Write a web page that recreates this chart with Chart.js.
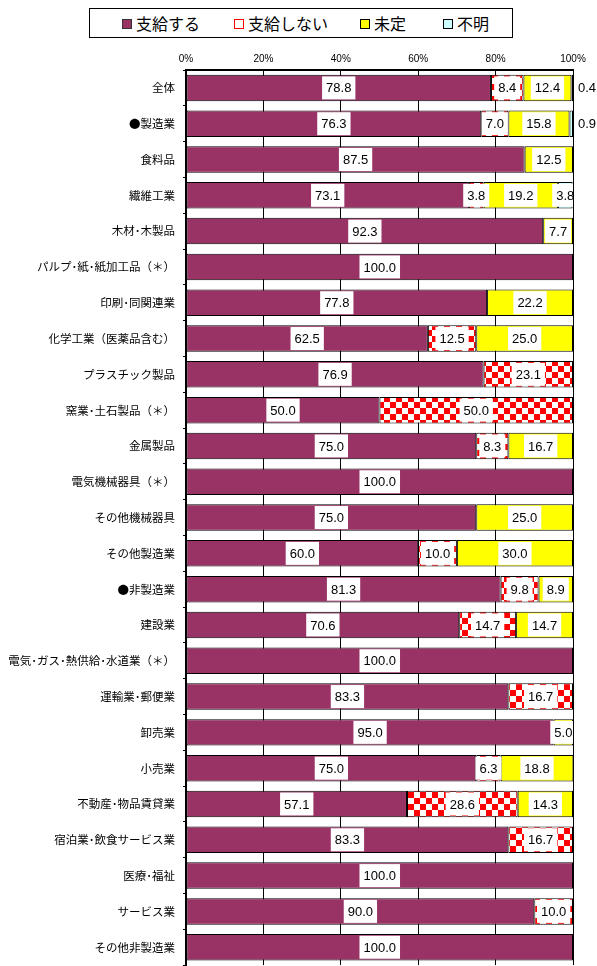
<!DOCTYPE html>
<html>
<head>
<meta charset="utf-8">
<script src="https://cdn.jsdelivr.net/npm/chart.js@4.4.0/dist/chart.umd.min.js"></script>
<style>
  body { margin: 0; background: #fff; overflow: hidden; }
  #wrap { position: relative; width: 597px; height: 980px; }
  #legend {
    position: absolute; left: 89px; top: 8px; width: 422px; height: 28px;
    border: 1px solid #000; background: #fff;
    font-family: "Noto Sans CJK JP", sans-serif; font-size: 16px; color: #000;
  }
  #legend .item { position: absolute; top: 0; height: 28px; line-height: 28px; white-space: nowrap; }
  #legend .box { display: inline-block; width: 8px; height: 8px; margin-right: 4px; vertical-align: 1px; }
</style>
</head>
<body>
<div id="wrap">
  <canvas id="chartCanvas"></canvas>
  <div id="legend"></div>
</div>
<script>
var categories = [
  "全体", "●製造業", "食料品", "繊維工業", "木材･木製品",
  "パルプ･紙･紙加工品（＊）", "印刷･同関連業", "化学工業（医薬品含む）", "プラスチック製品", "窯業･土石製品（＊）",
  "金属製品", "電気機械器具（＊）", "その他機械器具", "その他製造業", "●非製造業",
  "建設業", "電気･ガス･熱供給･水道業（＊）", "運輸業･郵便業", "卸売業", "小売業",
  "不動産･物品賃貸業", "宿泊業･飲食サービス業", "医療･福祉", "サービス業", "その他非製造業"
];
var seriesNames = ["支給する", "支給しない", "未定", "不明"];

var shikyuSuru   = [78.8, 76.3, 87.5, 73.1, 92.3, 100.0, 77.8, 62.5, 76.9, 50.0, 75.0, 100.0, 75.0, 60.0, 81.3, 70.6, 100.0, 83.3, 95.0, 75.0, 57.1, 83.3, 100.0, 90.0, 100.0];
var shikyuShinai = [8.4, 7.0, 0, 3.8, 0, 0, 0, 12.5, 23.1, 50.0, 8.3, 0, 0, 10.0, 9.8, 14.7, 0, 16.7, 0, 6.3, 28.6, 16.7, 0, 10.0, 0];
var mitei        = [12.4, 15.8, 12.5, 19.2, 7.7, 0, 22.2, 25.0, 0, 0, 16.7, 0, 25.0, 30.0, 8.9, 14.7, 0, 0, 5.0, 18.8, 14.3, 0, 0, 0, 0];
var fumei        = [0.4, 0.9, 0, 3.8, 0, 0, 0, 0, 0, 0, 0, 0, 0, 0, 0, 0, 0, 0, 0, 0, 0, 0, 0, 0, 0];

var tickLabels = ["0%", "20%", "40%", "60%", "80%", "100%"];

var ctx = document.getElementById("chartCanvas").getContext("2d");

// red / white checks for the "支給しない" segments
function checkerPattern() {
  var c = document.createElement("canvas");
  c.width = 12;
  c.height = 12;
  var g = c.getContext("2d");
  g.fillStyle = "#ffffff";
  g.fillRect(0, 0, 12, 12);
  g.fillStyle = "#ff0000";
  g.fillRect(0, 0, 6, 6);
  g.fillRect(6, 6, 6, 6);
  return ctx.createPattern(c, "repeat");
}

var fills = ["#993366", checkerPattern(), "#ffff00", "#ccffff"];
var legendBoxes = [
  { bg: "#993366", border: "#333" },
  { bg: "#ffffff", border: "#ff0000" },
  { bg: "#ffff00", border: "#000" },
  { bg: "#ccffff", border: "#000" }
];
var values = [shikyuSuru, shikyuShinai, mitei, fumei];

// legend (html)
var legendEl = document.getElementById("legend");
var legendLeft = [32, 144, 270, 353];
for (var i = 0; i < seriesNames.length; i++) {
  var item = document.createElement("div");
  item.className = "item";
  item.style.left = legendLeft[i] + "px";
  var box = document.createElement("span");
  box.className = "box";
  box.style.background = legendBoxes[i].bg;
  box.style.border = "1px solid " + legendBoxes[i].border;
  item.appendChild(box);
  item.appendChild(document.createTextNode(seriesNames[i]));
  legendEl.appendChild(item);
}

var dataset = [];
for (var i = 0; i < values.length; i++) {
  dataset.push({
    label: seriesNames[i],
    data: values[i].map(function (v) { return v > 0 ? v : null; }),
    backgroundColor: fills[i],
    borderColor: "#000",
    borderWidth: 1,
    borderSkipped: false,
    barPercentage: 0.74,
    categoryPercentage: 1.0
  });
}

// white value boxes in each segment, small ones go to the right of the bar
var valueLabels = {
  id: "valueLabels",
  afterDatasetsDraw: function (chart) {
    var c = chart.ctx;
    var area = chart.chartArea;
    c.save();
    c.font = "13px 'Liberation Sans', Arial, sans-serif";
    c.textAlign = "center";
    c.textBaseline = "middle";
    for (var i = 0; i < chart.data.datasets.length; i++) {
      var meta = chart.getDatasetMeta(i);
      for (var j = 0; j < meta.data.length; j++) {
        var v = values[i][j];
        if (!v) continue;
        var el = meta.data[j];
        var txt = v.toFixed(1);
        if (v < 2) {
          c.fillStyle = "#000";
          c.fillText(txt, area.right + 14, el.y + 1);
          continue;
        }
        var cx = (el.x + el.base) / 2;
        var w = c.measureText(txt).width + 8;
        c.save();
        c.beginPath();
        c.rect(area.left, area.top, area.right - area.left, area.bottom - area.top);
        c.clip();
        c.fillStyle = "#fff";
        c.fillRect(cx - w / 2, el.y - 11.5, w, 23);
        c.fillStyle = "#000";
        c.fillText(txt, cx, el.y + 1);
        c.restore();
      }
    }
    c.restore();
  }
};

var chart = new Chart(ctx, {
  type: "bar",
  data: {
    labels: categories,
    datasets: dataset
  },
  options: {
    indexAxis: "y",
    responsive: true,
    maintainAspectRatio: false,
    animation: false,
    layout: {
      padding: { top: 0, right: 24, bottom: 8, left: 0 }
    },
    scales: {
      x: {
        type: "linear",
        position: "top",
        stacked: true,
        min: 0,
        max: 100,
        ticks: {
          stepSize: 20,
          padding: 5,
          color: "#000",
          font: { family: "'Liberation Sans', Arial, sans-serif", size: 10 },
          callback: function (v) { return tickLabels[Math.round(v / 20)]; }
        },
        grid: { color: "#000", lineWidth: 1, drawTicks: false },
        border: { display: true, color: "#000", width: 2 },
        afterFit: function (s) { s.height = 70; }
      },
      y: {
        stacked: true,
        ticks: {
          padding: 8,
          color: "#000",
          font: { family: "'Noto Sans CJK JP', sans-serif", size: 11.5 }
        },
        grid: { drawOnChartArea: false, color: "#000", tickLength: 3 },
        border: { display: true, color: "#000", width: 2 },
        afterFit: function (s) { s.width = 186; }
      }
    },
    plugins: {
      legend: { display: false },
      tooltip: { enabled: false }
    }
  },
  plugins: [valueLabels]
});
</script>
</body>
</html>
